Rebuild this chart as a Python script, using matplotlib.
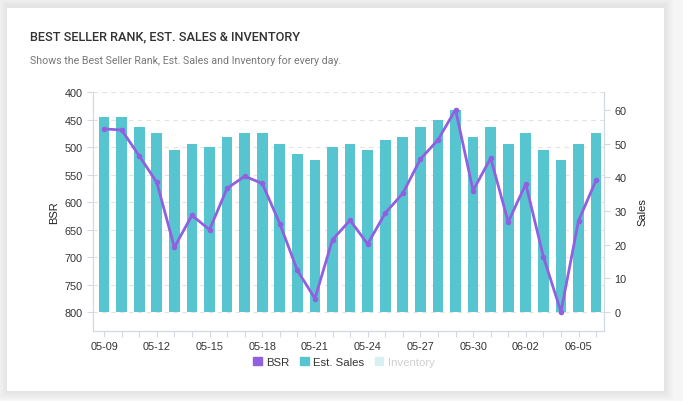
import matplotlib.pyplot as plt
from matplotlib.patches import Rectangle, Patch

# dates (every day from 05-09 to 06-06)
days = ["05-09", "05-10", "05-11", "05-12", "05-13", "05-14", "05-15", "05-16",
        "05-17", "05-18", "05-19", "05-20", "05-21", "05-22", "05-23", "05-24",
        "05-25", "05-26", "05-27", "05-28", "05-29", "05-30", "05-31", "06-01",
        "06-02", "06-03", "06-04", "06-05", "06-06"]

bsr = [467, 469, 516, 564, 682, 624, 650, 575, 553, 566, 639, 724, 775, 668, 633,
       676, 620, 584, 522, 487, 432, 579, 520, 636, 567, 699, 799, 634, 560]

sales = [58, 58, 55, 53, 48, 50, 49, 52, 53, 53, 50, 47, 45, 49, 50,
         48, 51, 52, 55, 57, 60, 52, 55, 50, 53, 48, 45, 50, 53]

bsr_ticks = [400, 450, 500, 550, 600, 650, 700, 750, 800]
sales_ticks = [0, 10, 20, 30, 40, 50, 60]

PURPLE = "#9160e0"
TEAL = "#56c5d0"
AXIS = "#d3d9e3"
W, H = 683, 402


def fx(px):
    return px / W


def fy(py):
    return 1 - py / H


fig = plt.figure(figsize=(6.83, 4.02), dpi=100)
fig.patch.set_facecolor("#f6f6f6")

# card with a soft shadow
for i in range(6):
    g = 9 - i * 1.5
    fig.add_artist(Rectangle((fx(7 - g), fy(392 + g)), fx(657 + 2 * g), (385 + 2 * g) / H,
                             transform=fig.transFigure, color="black", alpha=0.012, lw=0,
                             zorder=-3))
fig.add_artist(Rectangle((fx(7), fy(392)), fx(657), 383 / H,
                         transform=fig.transFigure, color="white", lw=0, zorder=-2))

fig.text(fx(30), fy(37), "BEST SELLER RANK, EST. SALES & INVENTORY", fontsize=9.2,
         family="Roboto", fontweight="medium", color="#333333", va="center")
fig.text(fx(30), fy(61), "Shows the Best Seller Rank, Est. Sales and Inventory for every day.",
         fontsize=7.7, family="Roboto", color="#777777", va="center")

plt.rcParams["font.family"] = "Liberation Sans"

pos = [fx(93), fy(332), fx(511), 239 / H]
ax = fig.add_axes(pos)
ax.patch.set_visible(False)
x = list(range(len(days)))

ax.set_ylim(834, 400)
ax.set_xlim(-0.63, 28.45)
ax.set_yticks(bsr_ticks)
ax.yaxis.grid(True, color="#e3e3e3", ls=(0, (4, 4)), lw=0.8)
ax.set_axisbelow(True)
ax.set_ylabel("BSR", fontsize=8, color="#222222", labelpad=4)

ax2 = ax.twinx()
ax2.patch.set_visible(False)
ax2.bar(x, sales, width=0.61, color=TEAL, zorder=2)
ax2.set_ylim(-5.57, 65.3)
ax2.set_yticks(sales_ticks)
ax2.set_ylabel("Sales", fontsize=8, color="#222222", labelpad=8)

ax3 = fig.add_axes(pos, sharex=ax, sharey=ax)
ax3.plot(x, bsr, color=PURPLE, lw=2, marker="o", ms=3)
ax3.axis("off")

ax.set_xticks(x)
ax.set_xticklabels([d if i % 3 == 0 else "" for i, d in enumerate(days)])

for a in (ax, ax2):
    for s in a.spines.values():
        s.set_color(AXIS)
    a.spines["top"].set_visible(False)
    a.tick_params(colors=AXIS, labelcolor="#333333", labelsize=7.8, length=4, width=0.8)
ax.tick_params(axis="x", pad=3)

handles = [Patch(color=PURPLE), Patch(color=TEAL), Patch(color="#d9f0f2")]
leg = fig.legend(handles, ["BSR", "Est. Sales", "Inventory"], loc="center",
                 bbox_to_anchor=(fx(344), fy(363)), ncol=3, frameon=False, fontsize=8.2,
                 handlelength=0.75, handleheight=0.75, handletextpad=0.4, columnspacing=0.9)
leg.get_texts()[0].set_color("#333333")
leg.get_texts()[1].set_color("#333333")
leg.get_texts()[2].set_color("#cfcfcf")

fig.savefig("out.png", dpi=100, facecolor=fig.get_facecolor())
